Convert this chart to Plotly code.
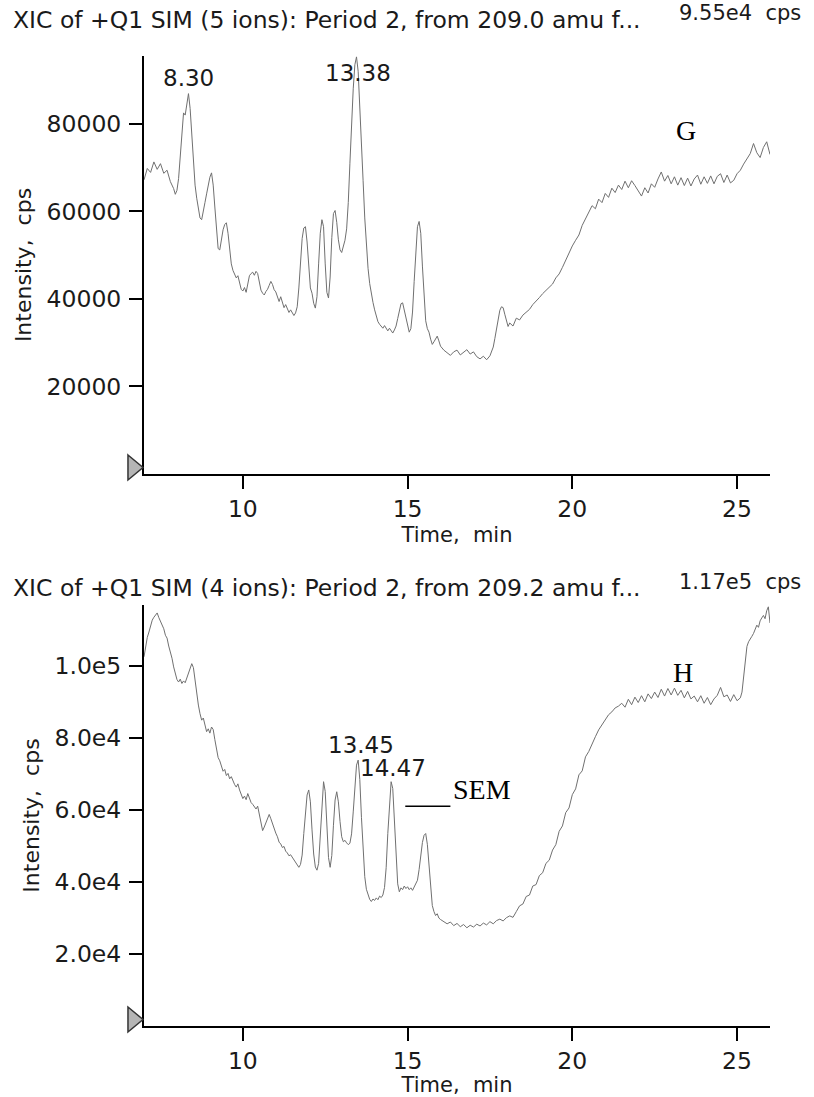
import plotly.graph_objects as go

# ---------------- data ----------------
g_time = [7.0, 7.1, 7.2, 7.3, 7.4, 7.5, 7.6, 7.7, 7.8, 7.9,
          7.95, 8.0, 8.05, 8.1, 8.15, 8.2, 8.25, 8.3, 8.35, 8.4, 8.45, 8.5, 8.55, 8.6, 8.65, 8.7, 8.75, 8.8, 8.85, 8.9, 8.95,
          9.0, 9.05, 9.1, 9.15, 9.2, 9.25, 9.3, 9.35, 9.4, 9.45, 9.5, 9.55, 9.6, 9.65, 9.7, 9.75, 9.8, 9.85, 9.9, 9.95,
          10.0, 10.05, 10.1, 10.15, 10.2, 10.25, 10.3, 10.35, 10.4, 10.45, 10.5, 10.55, 10.6, 10.65, 10.7, 10.75, 10.8, 10.85, 10.9, 10.95,
          11.0, 11.05, 11.1, 11.15, 11.2, 11.25, 11.3, 11.35, 11.4, 11.45, 11.5, 11.55, 11.6, 11.65, 11.7, 11.75, 11.8, 11.85, 11.9, 11.95,
          12.0, 12.05, 12.1, 12.15, 12.2, 12.25, 12.3, 12.35, 12.4, 12.45, 12.5, 12.55, 12.6, 12.65, 12.7, 12.75, 12.8, 12.85, 12.9, 12.95,
          13.0, 13.05, 13.1, 13.15, 13.2, 13.25, 13.3, 13.35, 13.4, 13.45, 13.5, 13.55, 13.6, 13.65, 13.7, 13.75, 13.8, 13.85, 13.9, 13.95,
          14.0, 14.05, 14.1, 14.15, 14.2, 14.25, 14.3, 14.35, 14.4, 14.45, 14.5, 14.55, 14.6, 14.65, 14.7, 14.75, 14.8, 14.85, 14.9, 14.95,
          15.0, 15.05, 15.1, 15.15, 15.2, 15.25, 15.3, 15.35, 15.4, 15.45, 15.5, 15.55, 15.6, 15.65, 15.7, 15.75, 15.8, 15.85, 15.9, 15.95, 16.0,
          16.1, 16.2, 16.3, 16.4, 16.5, 16.6, 16.7, 16.8, 16.9, 17.0, 17.1, 17.2, 17.3, 17.4, 17.5,
          17.55, 17.6, 17.65, 17.7, 17.75, 17.8, 17.85, 17.9, 17.95, 18.0, 18.05,
          18.1, 18.2, 18.3, 18.4, 18.5, 18.6, 18.7, 18.8, 18.9, 19.0, 19.1, 19.2, 19.3, 19.4, 19.5, 19.6, 19.7, 19.8, 19.9,
          20.0, 20.1, 20.2, 20.3, 20.4, 20.5, 20.6, 20.7, 20.8, 20.9, 21.0, 21.1, 21.2, 21.3, 21.4, 21.5, 21.6, 21.7, 21.8, 21.9,
          22.0, 22.1, 22.2, 22.3, 22.4, 22.5, 22.6, 22.7, 22.8, 22.9, 23.0, 23.1, 23.2, 23.3, 23.4, 23.5, 23.6, 23.7, 23.8, 23.9,
          24.0, 24.1, 24.2, 24.3, 24.4, 24.5, 24.6, 24.7, 24.8, 24.9, 25.0, 25.1, 25.2, 25.3, 25.4, 25.5, 25.6, 25.7, 25.8, 25.9, 26.0]
g_intensity = [67200, 69800, 68900, 71300, 69600, 70900, 68700, 69400, 66800, 65200,
               63900, 64800, 67500, 73000, 79000, 82500, 82000, 84500, 86900, 83500, 77000, 71000, 66000, 63000, 60500, 58500, 58100, 59800, 62000, 64000, 66000,
               67800, 68800, 66000, 61000, 55500, 51500, 51200, 53500, 55800, 57000, 57400, 55000, 51000, 48000, 46500, 45800, 44800, 45300, 43500, 42200,
               41800, 42600, 41500, 43600, 45300, 45800, 46100, 45400, 46300, 45800, 43800, 42000, 41300, 40900, 41700, 42200, 43100, 44000, 43300, 42100,
               41600, 40300, 39400, 40500, 39100, 38000, 38700, 37600, 36900, 37500, 36700, 36200, 36800, 38200, 42500, 48500, 53800, 56200, 56500, 53000,
               46500, 42500, 41300, 39000, 37900, 40500, 48000, 55000, 58100, 56500, 48000, 41500, 40200, 45000, 54000, 59500, 60200, 57500, 53500, 51200,
               50600, 51800, 53400, 56000, 62000, 71000, 80000, 88000, 93500, 95300, 92000, 84500, 76000, 67000, 58500, 52000, 47000, 43500, 41000, 39200,
               37500, 35800, 34800, 34200, 33600, 33300, 33900, 33100, 32700, 33300, 32600, 32200, 32900, 33800, 35500, 37600, 38900, 39100, 37500, 35200,
               33800, 32400, 33200, 37000, 44000, 51500, 56500, 57700, 55000, 47500, 40000, 35000, 33200, 32400, 30800, 29600, 30200, 30900, 31500, 30400, 29200,
               28300, 27600, 27100, 27900, 28300, 27200, 27800, 28400, 27400, 27900, 26800, 26300, 26900, 26100, 27000,
               27800, 29000, 31000, 33500, 35800, 37400, 38200, 38000, 36500, 34800, 33700,
               34500, 33800, 35600, 35200, 36300, 36900, 37600, 38700, 39400, 40300, 41200, 41900, 42500, 43400, 44800, 45700, 47200, 48900, 50300,
               52100, 53400, 54600, 56800, 58400, 60100, 61300, 60600, 62800, 62000, 64100, 63200, 65300, 64300, 66000, 65000, 66900, 65400, 67000, 65900,
               64800, 63500, 65400, 64200, 66300, 65500, 67400, 69000, 66900, 68200, 66300, 67900, 66000, 67700, 65900, 67600, 65800, 67400, 68300, 66200,
               67900, 66400, 68100, 66300, 68000, 68600, 66600, 68300, 66500, 67100, 68600, 69400, 70800, 71900, 73200, 75500, 73400, 72300, 74600, 75900, 73000]

h_time = [7.0, 7.05, 7.1, 7.15, 7.2, 7.25, 7.3, 7.35, 7.4, 7.45, 7.5, 7.55, 7.6, 7.65, 7.7, 7.75, 7.8, 7.85, 7.9, 7.95,
          8.0, 8.05, 8.1, 8.15, 8.2, 8.25, 8.3, 8.35, 8.4, 8.45, 8.5, 8.55, 8.6, 8.65, 8.7, 8.75, 8.8, 8.85, 8.9, 8.95,
          9.0, 9.05, 9.1, 9.15, 9.2, 9.25, 9.3, 9.35, 9.4, 9.45, 9.5, 9.55, 9.6, 9.65, 9.7, 9.75, 9.8, 9.85, 9.9, 9.95,
          10.0, 10.05, 10.1, 10.15, 10.2, 10.25, 10.3, 10.35, 10.4, 10.45, 10.5, 10.55, 10.6, 10.65, 10.7, 10.75, 10.8, 10.85, 10.9, 10.95,
          11.0, 11.05, 11.1, 11.15, 11.2, 11.25, 11.3, 11.35, 11.4, 11.45, 11.5, 11.55, 11.6, 11.65, 11.7, 11.75, 11.8, 11.85, 11.9, 11.95,
          12.0, 12.05, 12.1, 12.15, 12.2, 12.25, 12.3, 12.35, 12.4, 12.45, 12.5, 12.55, 12.6, 12.65, 12.7, 12.75, 12.8, 12.85, 12.9, 12.95,
          13.0, 13.05, 13.1, 13.15, 13.2, 13.25, 13.3, 13.35, 13.4, 13.45, 13.5, 13.55, 13.6, 13.65, 13.7, 13.75, 13.8, 13.85, 13.9, 13.95,
          14.0, 14.05, 14.1, 14.15, 14.2, 14.25, 14.3, 14.35, 14.4, 14.45, 14.5, 14.55, 14.6, 14.65, 14.7, 14.75, 14.8, 14.85, 14.9, 14.95,
          15.0, 15.05, 15.1, 15.15, 15.2, 15.25, 15.3, 15.35, 15.4, 15.45, 15.5, 15.55, 15.6, 15.65, 15.7, 15.75, 15.8, 15.85, 15.9, 15.95, 16.0,
          16.1, 16.2, 16.3, 16.4, 16.5, 16.6, 16.7, 16.8, 16.9, 17.0, 17.1, 17.2, 17.3, 17.4, 17.5, 17.6, 17.7, 17.8, 17.9,
          18.0, 18.1, 18.2, 18.3, 18.4, 18.5, 18.6, 18.7, 18.8, 18.9, 19.0, 19.1, 19.2, 19.3, 19.4, 19.5, 19.6, 19.7, 19.8, 19.9,
          20.0, 20.1, 20.2, 20.3, 20.4, 20.5, 20.6, 20.7, 20.8, 20.9, 21.0, 21.1, 21.2, 21.3, 21.4, 21.5, 21.6, 21.7, 21.8, 21.9,
          22.0, 22.1, 22.2, 22.3, 22.4, 22.5, 22.6, 22.7, 22.8, 22.9, 23.0, 23.1, 23.2, 23.3, 23.4, 23.5, 23.6, 23.7, 23.8, 23.9,
          24.0, 24.1, 24.2, 24.3, 24.4, 24.5, 24.6, 24.7, 24.8, 24.9, 25.0, 25.1, 25.15, 25.2, 25.25, 25.3, 25.35, 25.4, 25.45,
          25.5, 25.55, 25.6, 25.65, 25.7, 25.75, 25.8, 25.85, 25.9, 25.95, 26.0]
h_intensity = [102600, 105500, 108000, 109500, 111200, 112800, 113600, 114200, 114800, 113500, 112400, 111800, 110400, 108600, 107800, 105600, 104000, 102200, 99800, 97800,
               96300, 95600, 96400, 95200, 95900, 95400, 96700, 97600, 98900, 100700, 99600, 95800, 92600, 89200, 86800, 85000, 85600, 83400, 81800, 82600,
               81400, 83100, 82400, 79600, 76800, 74600, 73700, 72100, 70800, 71300, 69600, 70200, 68700, 69300, 67900, 67100, 66400, 67300, 65600, 64300,
               63200, 63900, 62900, 64600, 63200, 62100, 61600, 60900, 60300, 61100, 58700, 56200, 54300, 55300, 56600, 57900, 58800, 57600, 56100, 54600,
               53600, 52600, 51100, 50600, 49600, 49900, 48600, 48100, 47300, 47600, 46900, 46100, 45300, 44600, 44100, 44900, 47500, 53500, 60000, 64200,
               65600, 62300, 54500, 47800, 44200, 43300, 45200, 53000, 62400, 67900, 65200, 55500, 46800, 44100, 47400, 55800, 62800, 65100, 62300, 56800,
               52600, 51200, 51600, 50900, 50400, 50800, 53400, 59500, 66800, 72500, 73900, 68500, 58000, 48000, 41500, 38000, 36300, 35200, 34600, 35300,
               34900, 35600, 35100, 36100, 35700, 36400, 38500, 44000, 53500, 62500, 67900, 66000, 56500, 45500, 39500, 37300, 38400, 37900, 38900, 38200,
               38700, 37900, 38400, 37700, 38600, 39200, 40500, 43500, 47500, 51000, 53000, 53500, 50500, 44000, 37500, 33500, 31800, 30700, 31200, 30000, 29600,
               29100, 28400, 28900, 27900, 28500, 27600, 28200, 27300, 28000, 27500, 28300, 27800, 28600, 28100, 29000, 28400, 29300, 29700, 29200,
               30100, 30600, 30200, 31800, 33400, 33900, 36000, 36400, 38900, 39300, 41800, 42600, 45200, 46100, 48900, 50400, 54100, 55600, 59300, 60600,
               64300, 65900, 69800, 70900, 74800, 76300, 78600, 80400, 82300, 83600, 85200, 86500, 87300, 88400, 88900, 89700, 88600, 90800, 89300, 91400,
               89900, 91800, 90100, 92300, 91000, 92800, 91300, 93600, 91700, 93800, 92000, 93900, 91900, 93300, 91200, 93000, 90900, 91700, 90100, 91800,
               89700, 91300, 89300, 90900, 91900, 94100, 91500, 92000, 90200, 92100, 90400, 91200, 92800, 96500, 101500, 105500, 106800, 107400, 108300,
               109100, 110500, 111400, 110800, 112600, 113400, 114100, 113200, 115400, 116500, 112000]

x_ticks = [10, 15, 20, 25]
g_y_ticks = [20000, 40000, 60000, 80000]
g_y_ticktext = ["20000", "40000", "60000", "80000"]
h_y_ticks = [20000, 40000, 60000, 80000, 100000]
h_y_ticktext = ["2.0e4", "4.0e4", "6.0e4", "8.0e4", "1.0e5"]
g_max = 95500
h_max = 117000

titles = ["XIC of +Q1 SIM (5 ions): Period 2, from 209.0 amu f...",
          "XIC of +Q1 SIM (4 ions): Period 2, from 209.2 amu f..."]
max_labels = ["9.55e4  cps", "1.17e5  cps"]

# ---------------- figure ----------------
SANS = "DejaVu Sans"
SERIF = "Liberation Serif"
TXT = "#1a1a1a"
LINE = "#707070"

fig = go.Figure()
fig.add_trace(go.Scatter(x=g_time, y=g_intensity, mode="lines",
                         line=dict(color=LINE, width=1), xaxis="x", yaxis="y",
                         showlegend=False, hoverinfo="x+y"))
fig.add_trace(go.Scatter(x=h_time, y=h_intensity, mode="lines",
                         line=dict(color=LINE, width=1), xaxis="x2", yaxis="y2",
                         showlegend=False, hoverinfo="x+y"))

axis_common = dict(showline=True, linecolor="black", linewidth=2, ticks="outside",
                   ticklen=13, tickwidth=2, tickcolor="black", showgrid=False,
                   zeroline=False, automargin=False,
                   tickfont=dict(family=SANS, size=23.5, color=TXT))

fig.update_layout(
    template="none",
    width=814, height=1097,
    margin=dict(l=144, r=44, t=56, b=71),
    paper_bgcolor="white", plot_bgcolor="white",
    xaxis=dict(domain=[0, 1], range=[7, 26], tickvals=x_ticks, anchor="y",
               title=dict(text="Time,  min", font=dict(family=SANS, size=21, color=TXT), standoff=2),
               **axis_common),
    yaxis=dict(domain=[0.5691, 1], range=[0, g_max], tickvals=g_y_ticks, ticktext=g_y_ticktext,
               anchor="x", ticklabelstandoff=3,
               title=dict(text="Intensity,  cps", font=dict(family=SANS, size=22, color=TXT), standoff=9),
               **axis_common),
    xaxis2=dict(domain=[0, 1], range=[7, 26], tickvals=x_ticks, anchor="y2",
                title=dict(text="Time,  min", font=dict(family=SANS, size=21, color=TXT), standoff=2),
                **axis_common),
    yaxis2=dict(domain=[0, 0.434], range=[0, h_max], tickvals=h_y_ticks, ticktext=h_y_ticktext,
                anchor="x2", ticklabelstandoff=3,
                title=dict(text="Intensity,  cps", font=dict(family=SANS, size=22, color=TXT), standoff=9),
                **axis_common),
)

anns = []
# panel headers
anns.append(dict(text=titles[0], xref="paper", yref="paper", x=-0.213, y=1.037,
                 xanchor="left", yanchor="middle", showarrow=False,
                 font=dict(family=SANS, size=23.5, color=TXT)))
anns.append(dict(text=max_labels[0], xref="paper", yref="paper", x=1.052, y=1.044,
                 xanchor="right", yanchor="middle", showarrow=False,
                 font=dict(family=SANS, size=21, color=TXT)))
anns.append(dict(text=titles[1], xref="paper", yref="paper", x=-0.213, y=0.4515,
                 xanchor="left", yanchor="middle", showarrow=False,
                 font=dict(family=SANS, size=23.5, color=TXT)))
anns.append(dict(text=max_labels[1], xref="paper", yref="paper", x=1.052, y=0.4577,
                 xanchor="right", yanchor="middle", showarrow=False,
                 font=dict(family=SANS, size=21, color=TXT)))
# peak labels
for txt, x, y, xr, yr in [("8.30", 8.34, 90500, "x", "y"), ("13.38", 13.5, 91700, "x", "y"),
                          ("13.45", 13.6, 78000, "x2", "y2"), ("14.47", 14.57, 71700, "x2", "y2")]:
    anns.append(dict(text=txt, x=x, y=y, xref=xr, yref=yr, showarrow=False,
                     xanchor="center", yanchor="middle",
                     font=dict(family=SANS, size=23, color=TXT)))
# panel letters
anns.append(dict(text="G", x=23.46, y=78400, xref="x", yref="y", showarrow=False,
                 font=dict(family=SERIF, size=28, color="black")))
anns.append(dict(text="H", x=23.37, y=98300, xref="x2", yref="y2", showarrow=False,
                 font=dict(family=SERIF, size=28, color="black")))
anns.append(dict(text="SEM", x=16.33, y=65600, xref="x2", yref="y2", showarrow=False,
                 xanchor="left", yanchor="middle",
                 font=dict(family=SERIF, size=28, color="black")))
fig.update_layout(annotations=anns)

# leader line under "SEM"
fig.add_shape(type="line", xref="x2", yref="y2", x0=14.93, x1=16.3, y0=61100, y1=61100,
              line=dict(color="black", width=1.5))
# grey start markers at the left end of each time axis
tri_style = dict(fillcolor="#b5b5b5", line=dict(color="#333333", width=1.5), layer="above")
fig.add_shape(type="path", xref="paper", yref="paper",
              path="M -0.0256 0.5887 L -0.0016 0.5758 L -0.0256 0.5629 Z", **tri_style)
fig.add_shape(type="path", xref="paper", yref="paper",
              path="M -0.0256 0.0196 L -0.0016 0.0067 L -0.0256 -0.0062 Z", **tri_style)

# remove the default 8px page margin so the figure sits exactly in the window
fig.write_html("out.html", config={"displayModeBar": False},
               post_script="document.body.style.margin='0px';")
